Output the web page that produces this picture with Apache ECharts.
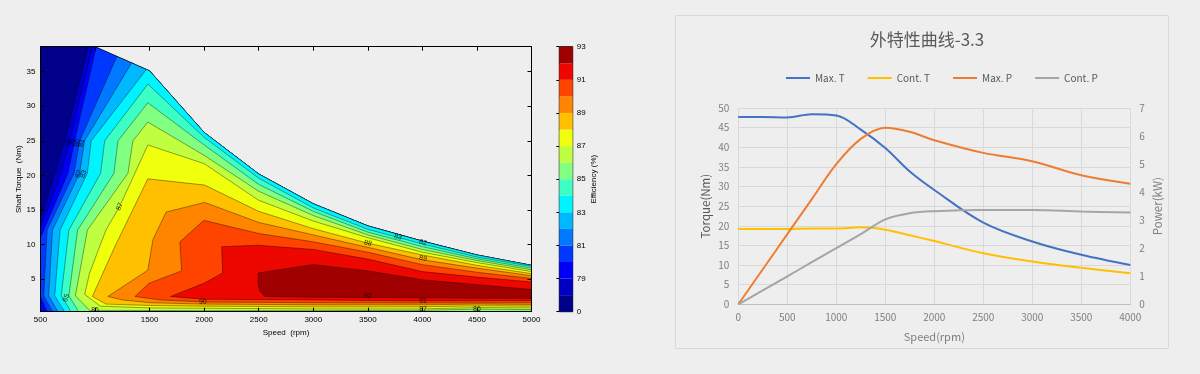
<!DOCTYPE html>
<html><head><meta charset="utf-8">
<script src="https://cdn.jsdelivr.net/npm/echarts@6/dist/echarts.min.js"></script>
<style>html,body{margin:0;padding:0;background:#eeeeee;}#c{width:1200px;height:374px;}</style>
</head><body><div id="c"></div><script>
// ---------- Left chart: efficiency map ----------
const envSpeed  = [500,1000,1500,2000,2500,3000,3500,4000,4500,5000];
const envTorque = [38.6,38.6,35.1,26.2,20.2,15.9,12.7,10.5,8.5,7.0];
const torqueMin = 0.3;

// contour lines (eff = level) running from bottom / left edge up to the envelope
const edge78 = [[500,0.3],[500,13.5],[630,20.3],[721,25],[935,38.6]];
const edge79 = [[500,0.3],[500,12.5],[691,20.3],[767,25],[975,38.6]];
const edge80 = [[560,0.3],[500,2.5],[500,11.0],[752,20.3],[813,25],[1010,38.53]];
const edge81 = [[610,0.3],[530,2.6],[560,12.1],[807,20.3],[859,25],[1200,37.2]];
const edge82 = [[660,0.3],[575,2.6],[610,12.1],[859,20.3],[904,25],[1335,36.25]];
const edge83 = [[720,0.3],[630,2.6],[680,12.1],[929,20.3],[965,25],[1470,35.3]];
// closed regions (eff >= level)
const poly84 = [[780,0.3],[690,2.6],[760,12.1],[1051,20.3],[1088,25],[1484,33.2],[2000,25.5],[2500,19.6],[3000,15.3],[3500,12.2],[4000,10.1],[4500,8.2],[5000,6.85],[5000,0.3]];
const poly85 = [[850,0.3],[760,2.6],[840,12.1],[1173,20.3],[1210,25],[1484,30.5],[2000,24.4],[2500,18.7],[3000,14.8],[3500,11.8],[4000,9.7],[4500,7.95],[5000,6.6],[5000,0.35],[4500,0.3]];
const poly86 = [[820,2.6],[930,12.1],[1301,20.3],[1347,25],[1484,27.7],[2000,22.9],[2500,17.7],[3000,14.2],[3500,11.4],[4000,9.3],[4500,7.7],[5000,6.35],[5000,0.6],[4500,0.67],[4000,0.5],[3000,0.45],[2000,0.45],[950,0.5]];
const poly87 = [[905,2.8],[950,5.9],[1100,12.1],[1225,15.5],[1484,24.4],[2000,21.7],[2500,16.4],[3000,13.4],[3500,11.0],[4000,8.9],[4500,7.4],[5000,6.1],[5000,0.85],[4500,0.9],[4000,0.7],[3000,0.7],[2000,0.8],[1500,0.85],[1050,1.1]];
const poly88 = [[975,2.5],[1190,10],[1484,19.5],[2004,18.6],[2500,14.8],[3000,12.3],[3500,10.2],[4000,8.5],[4500,7.0],[5000,5.8],[5000,1.1],[4500,1.15],[4000,1.0],[3000,1.0],[2000,1.1],[1500,1.2],[1100,1.4]];
const poly89 = [[1118,2.5],[1484,6.3],[1530,10.7],[1652,14.7],[2004,16.1],[2500,13.2],[3000,11.4],[3500,9.6],[4000,7.8],[4500,6.6],[5000,5.5],[5000,1.35],[4500,1.4],[4000,1.3],[3000,1.3],[2000,1.4],[1500,1.6],[1250,2.0]];
const poly90 = [[1366,2.5],[1494,4.4],[1793,6.2],[1778,10.4],[1997,13.5],[2500,11.6],[3000,10.4],[3500,8.9],[4000,7.1],[4500,6.0],[5000,5.1],[5000,1.6],[4000,1.55],[3000,1.6],[2000,1.7],[1600,2.0]];
const poly91 = [[1692,2.5],[1997,4.4],[2169,5.9],[2160,9.7],[2495,9.9],[3000,9.3],[3500,7.9],[4000,6.1],[4500,5.3],[5000,4.6],[5000,1.9],[4000,1.85],[3000,2.0],[2000,2.1]];
const poly92 = [[2495,5.9],[3000,7.1],[3500,6.2],[4000,4.9],[4500,4.2],[5000,3.5],[5000,2.2],[4000,2.3],[3000,2.4],[2556,2.5],[2510,3.3],[2495,4.2]];

const levelEdges = [0,78,79,80,81,82,83,84,85,86,87,88,89,90,91,92,93];
const cbTickLabels = ['0','79','81','83','85','87','89','91','93'];

const labelPos  = [[1225,15.5],[735,2.3],[1000,0.6],[1988,1.7],[3500,2.5],[4006,1.85],[4006,0.67],[4500,0.67],[3502,10.2],[4006,8.0],[3777,11.1],[4006,10.3],[760,24.7],[800,24.7],[840,24.7],[880,24.7],[850,20.2],[895,20.2]];
const labelText = ['87','85','86','90','92','91','87','86','88','89','83','82','78','79','80','81','82','83'];

// ---------- Right chart: external characteristic curves ----------
const rpm   = [0,250,500,750,1000,1250,1500,1750,2000,2500,3000,3500,4000];
const maxT  = [47.7,47.7,47.6,48.4,48.1,44.5,39.8,33.8,29.1,20.8,16.0,12.6,10.0];
const contT = [19.2,19.2,19.2,19.3,19.3,19.6,19.0,17.6,16.1,13.0,10.9,9.3,7.9];
const maxP  = [0,1.25,2.5,3.75,5.0,5.9,6.3,6.15,5.85,5.4,5.1,4.6,4.3];
const contP = [0,0.5,1.0,1.5,2.0,2.5,3.03,3.25,3.32,3.36,3.36,3.31,3.27];
const seriesNames = ['Max. T','Cont. T','Max. P','Cont. P'];

// ---------- styles ----------
const bandColors = ['#00008a','#0000c4','#0000f8','#0038ff','#0078ff','#00b8ff','#00f4ff','#3cffc4','#80ff80','#c0ff40','#f0ff0c','#ffc000','#ff8400','#ff4400','#ee0600','#a00000'];
const lineColors = ['#4472C4','#FFC000','#ED7D31','#A5A5A5'];
const labelRot = [64,70,0,0,0,0,0,0,-13,-12,-15,-15,75,75,75,75,72,72];

// build polygons from the arrays
const envPts = envSpeed.map((s,i)=>[s,envTorque[i]]);
function withEnvelope(edge){
  const last = edge[edge.length-1][0];
  return edge.concat(envPts.filter(p=>p[0]>last)).concat([[5000,torqueMin]]);
}
const envPoly = [[500,torqueMin]].concat(envPts).concat([[5000,torqueMin]]);
const regions = [envPoly, withEnvelope(edge78), withEnvelope(edge79), withEnvelope(edge80),
  withEnvelope(edge81), withEnvelope(edge82), withEnvelope(edge83),
  poly84, poly85, poly86, poly87, poly88, poly89, poly90, poly91, poly92];

const F = 'Liberation Sans, Arial, sans-serif';
const FR = 'Noto Sans CJK SC, sans-serif';
const blackAxis = {lineStyle:{color:'#000',width:1}};
const plain = v => String(v);

const option = {
  backgroundColor:'#eeeeee',
  animation:false,
  title:{text:'外特性曲线-3.3', left:922, top:26, textAlign:'center',
    textStyle:{fontFamily:FR, fontSize:17, fontWeight:'normal', color:'#595959'}},
  legend:{data:seriesNames, left:781, top:68, itemWidth:24, itemHeight:2, itemGap:23, icon:'rect',
    textStyle:{fontFamily:FR, fontSize:10, color:'#595959'}},
  graphic:[{type:'rect', shape:{x:675.5, y:15.5, width:493, height:333}, style:{fill:'none', stroke:'#d9d9d9', lineWidth:1}, z:-1}],
  grid:[
    {left:40.5, top:46.7, width:491, height:265},
    {left:559.3, top:46.7, width:13.4, height:265, show:true, borderColor:'#000', borderWidth:1, backgroundColor:'transparent'},
    {left:738.3, top:108, width:392, height:196.3}
  ],
  xAxis:[
    {gridIndex:0, type:'value', min:500, max:5000, interval:500, z:10,
     axisLine:blackAxis, axisTick:{inside:true, length:4, lineStyle:{color:'#000'}},
     axisLabel:{fontFamily:F, fontSize:8, color:'#000', margin:4, formatter:plain}, splitLine:{show:false},
     name:'Speed  (rpm)', nameLocation:'middle', nameGap:14, nameTextStyle:{fontFamily:F, fontSize:8, color:'#000'}},
    {gridIndex:0, type:'value', position:'top', min:500, max:5000, interval:500, z:10,
     axisLine:blackAxis, axisTick:{inside:true, length:4, lineStyle:{color:'#000'}},
     axisLabel:{show:false}, splitLine:{show:false}},
    {gridIndex:1, type:'value', min:0, max:1, show:false},
    {gridIndex:2, type:'value', min:0, max:4000, interval:500,
     axisLine:{lineStyle:{color:'#bfbfbf'}}, axisTick:{show:false},
     axisLabel:{fontFamily:FR, fontSize:10, color:'#7f7f7f', margin:8, formatter:plain},
     splitLine:{show:true, lineStyle:{color:'#d9d9d9'}},
     name:'Speed(rpm)', nameLocation:'middle', nameGap:27, nameTextStyle:{fontFamily:FR, fontSize:11, color:'#7f7f7f'}}
  ],
  yAxis:[
    {gridIndex:0, type:'value', min:0.3, max:38.6, z:10,
     axisLine:blackAxis, axisTick:{inside:true, length:4, lineStyle:{color:'#000'}, customValues:[5,10,15,20,25,30,35]},
     axisLabel:{fontFamily:F, fontSize:8, color:'#000', margin:5, customValues:[5,10,15,20,25,30,35]}, splitLine:{show:false},
     name:'Shaft Torque  (Nm)', nameLocation:'middle', nameGap:18, nameRotate:90, nameTextStyle:{fontFamily:F, fontSize:8, color:'#000'}},
    {gridIndex:0, type:'value', position:'right', min:0.3, max:38.6, z:10,
     axisLine:blackAxis, axisTick:{inside:true, length:4, lineStyle:{color:'#000'}, customValues:[5,10,15,20,25,30,35]},
     axisLabel:{show:false}, splitLine:{show:false}},
    {gridIndex:1, type:'value', position:'right', min:0, max:16, interval:2,
     axisLine:{show:false}, axisTick:{inside:true, length:3, lineStyle:{color:'#000'}},
     axisLabel:{fontFamily:F, fontSize:8, color:'#000', margin:4, formatter:v=>cbTickLabels[Math.round(v/2)]},
     splitLine:{show:false},
     name:'Efficiency (%)', nameLocation:'middle', nameGap:17, nameRotate:90, nameTextStyle:{fontFamily:F, fontSize:8, color:'#000'}},
    {gridIndex:2, type:'value', min:0, max:50, interval:5,
     axisLine:{show:false}, axisTick:{show:false},
     axisLabel:{fontFamily:FR, fontSize:10, color:'#7f7f7f', margin:9},
     splitLine:{show:true, lineStyle:{color:'#d9d9d9'}},
     name:'Torque(Nm)', nameLocation:'middle', nameGap:27, nameRotate:90, nameTextStyle:{fontFamily:FR, fontSize:11.5, color:'#595959'}},
    {gridIndex:2, type:'value', position:'right', min:0, max:7, interval:1,
     axisLine:{show:false}, axisTick:{show:false},
     axisLabel:{fontFamily:FR, fontSize:10, color:'#7f7f7f', margin:9},
     splitLine:{show:false},
     name:'Power(kW)', nameLocation:'middle', nameGap:22, nameRotate:90, nameTextStyle:{fontFamily:FR, fontSize:11.5, color:'#7f7f7f'}}
  ],
  series:[
    {type:'custom', xAxisIndex:0, yAxisIndex:0, clip:true, z:2,
     data: regions.map((p,i)=>[p[0][0], p[0][1], i]),
     encode:{x:0, y:1},
     renderItem:(params, api)=>{
       const i = api.value(2);
       const pts = regions[i].map(p=>api.coord(p));
       return {type:'polygon', shape:{points:pts},
         style:{fill:bandColors[i], stroke: i===0 ? 'none' : 'rgba(0,0,0,0.75)', lineWidth:0.5}};
     }},
    {type:'scatter', xAxisIndex:0, yAxisIndex:0, symbolSize:0, z:5,
     data: labelPos.map((p,i)=>({value:p, label:{show:true, formatter:labelText[i], rotate:labelRot[i],
       fontFamily:F, fontSize:7, color:'#000', position:'inside'}})),
     silent:true},
    {type:'custom', xAxisIndex:2, yAxisIndex:2,
     data: bandColors.map((c,i)=>[0, i, i]),
     encode:{x:0, y:1},
     renderItem:(params, api)=>{
       const i = api.value(2);
       const a = api.coord([0, i]); const b = api.coord([1, i+1]);
       return {type:'rect', shape:{x:a[0], y:b[1], width:b[0]-a[0], height:a[1]-b[1]},
         style:{fill:bandColors[i]}};
     }},
    ...[maxT, contT, maxP, contP].map((vals, k)=>({
      type:'line', name:seriesNames[k], xAxisIndex:3, yAxisIndex: k<2 ? 3 : 4,
      data: rpm.map((r,i)=>[r, vals[i]]), smooth:0.35, showSymbol:false,
      lineStyle:{width:2, color:lineColors[k]}, itemStyle:{color:lineColors[k]}
    }))
  ]
};
const chart = echarts.init(document.getElementById('c'));
chart.setOption(option);
</script></body></html>
